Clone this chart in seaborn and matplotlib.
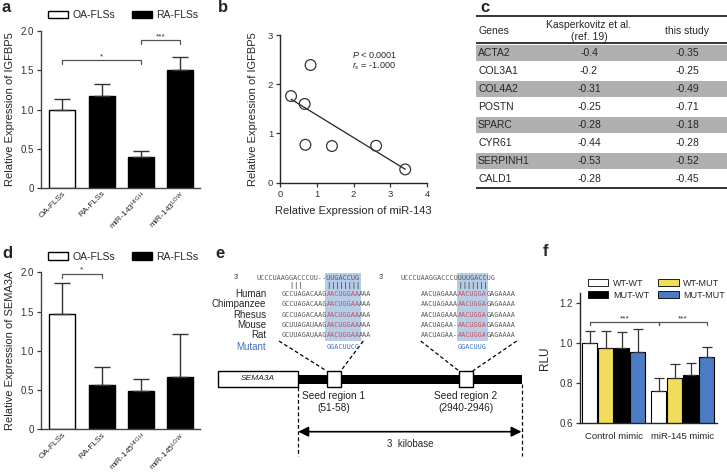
import numpy as np
import pandas as pd
import seaborn as sns
import matplotlib.pyplot as plt
from matplotlib.patches import Patch, Rectangle

sns.set_style('ticks')
plt.rcParams['font.family'] = ['Liberation Sans', 'DejaVu Sans']
plt.rcParams['axes.linewidth'] = 1.0
plt.rcParams['mathtext.fontset'] = 'custom'
plt.rcParams['mathtext.rm'] = 'Liberation Sans'
plt.rcParams['mathtext.it'] = 'Liberation Sans:italic'

W, H = 727, 474

# ---- data ----
# a: IGFBP5 expression
a_labels = ['OA-FLSs', 'RA-FLSs', 'miR-143$^{\\mathregular{HIGH}}$', 'miR-143$^{\\mathregular{LOW}}$']
a_vals = [1.00, 1.17, 0.39, 1.50]
a_sem = [0.13, 0.16, 0.08, 0.17]
a_group = ['OA-FLSs', 'RA-FLSs', 'RA-FLSs', 'RA-FLSs']

# b: correlation miR-143 vs IGFBP5
b_mir143 = [0.30, 0.83, 0.67, 0.69, 1.41, 2.61, 3.40]
b_igfbp5 = [1.76, 2.39, 1.60, 0.77, 0.745, 0.75, 0.27]

# c: table
c_genes = ['ACTA2', 'COL3A1', 'COL4A2', 'POSTN', 'SPARC', 'CYR61', 'SERPINH1', 'CALD1']
c_kasper = ['-0.4', '-0.2', '-0.31', '-0.25', '-0.28', '-0.44', '-0.53', '-0.28']
c_study = ['-0.35', '-0.25', '-0.49', '-0.71', '-0.18', '-0.28', '-0.52', '-0.45']

# d: SEMA3A expression
d_labels = ['OA-FLSs', 'RA-FLSs', 'miR-145$^{\\mathregular{HIGH}}$', 'miR-145$^{\\mathregular{LOW}}$']
d_vals = [1.47, 0.56, 0.49, 0.66]
d_sem = [0.40, 0.23, 0.15, 0.55]

# e: seed sites in SEMA3A 3'UTR
e_species = ['Human', 'Chimpanzee', 'Rhesus', 'Mouse', 'Rat']
e_mirna1 = 'UCCCUAAGGACCCUU--UUGACCUG'
e_pair1 = '        |||      ||||||||'
e_site1 = [('GCCUAGACAAG', 'AACUGGAA', 'AAA')] * 3 + [('GCUUAGAUAAG', 'AACUGGAA', 'AAA')] * 2
e_mut1 = 'GGACUUCG'
e_mirna2 = 'UCCCUAAGGACCCUUUUGACCUG'
e_pair2 = '              |||||||'
e_site2 = [('AACUAGAAA', 'AACUGGA', 'GAGAAAA')] * 3 + [('AACUAGAA-', 'AACUGGA', 'GAGAAAA')] * 2
e_mut2 = 'GGACUUG'
e_seed_labels = ['Seed region 1\n(51-58)', 'Seed region 2\n(2940-2946)']

# f: luciferase
f_groups = ['Control mimic', 'miR-145 mimic']
f_constructs = ['WT-WT', 'WT-MUT', 'MUT-WT', 'MUT-MUT']
f_control = [1.000, 0.978, 0.975, 0.958]
f_mimic = [0.762, 0.825, 0.843, 0.930]
f_control_sem = [0.062, 0.084, 0.082, 0.114]
f_mimic_sem = [0.066, 0.070, 0.057, 0.053]
f_colors = ['white', '#f2dc5b', 'black', '#4a7bc4']

fig = plt.figure(figsize=(W / 100, H / 100), dpi=100)


def px_axes(l, t, r, b):
    return fig.add_axes([l / W, 1 - b / H, (r - l) / W, (b - t) / H])


def bracket(ax, x1, x2, y, h, label, dy):
    ax.plot([x1, x1, x2, x2], [y - h, y, y, y - h], color='#555555', lw=0.9, clip_on=False)
    ax.text((x1 + x2) / 2, y + dy, label, ha='center', va='bottom', fontsize=6, color='#333333')


def bar_panel(ax, labels, vals, sem, groups, ylabel):
    sns.barplot(x=labels, y=vals, hue=groups, palette={'OA-FLSs': 'white', 'RA-FLSs': 'black'},
                dodge=False, width=0.66, edgecolor='black', linewidth=1, legend=False,
                saturation=1, ax=ax)
    ax.errorbar(range(len(vals)), vals, yerr=[np.zeros(len(vals)), sem], fmt='none',
                ecolor='#333333', elinewidth=1, capsize=6, capthick=1)
    ax.set_xlim(-0.54, 3.5)
    ax.set_ylim(0, 2.0)
    ax.set_xticks(range(len(labels)))
    ax.set_xticklabels(labels, rotation=45, ha='right', rotation_mode='anchor', fontsize=6)
    ax.tick_params(axis='x', length=0, pad=1.5)
    ax.set_yticks([0, 0.5, 1.0, 1.5, 2.0])
    ax.set_yticklabels(['0', '0.5', '1.0', '1.5', '2.0'], fontsize=7)
    ax.tick_params(axis='y', length=3, width=0.9, colors='#333333', pad=2)
    ax.set_ylabel(ylabel, fontsize=8, labelpad=4)
    sns.despine(ax=ax)
    for s in ax.spines.values():
        s.set_color('#444444')
    ax.legend(handles=[Patch(facecolor='white', edgecolor='black', label='OA-FLSs'),
                       Patch(facecolor='black', edgecolor='black', label='RA-FLSs')],
              ncol=2, frameon=False, fontsize=7.5, handlelength=1.9, handleheight=0.75,
              columnspacing=1.6, handletextpad=0.4, loc='center left',
              bbox_to_anchor=(0.02, 1.1), borderaxespad=0)


# ---- panel a ----
ax_a = px_axes(41, 31, 200, 188)
bar_panel(ax_a, a_labels, a_vals, a_sem, a_group, 'Relative Expression of IGFBP5')
bracket(ax_a, 0, 2, 1.63, 0.05, '*', 0.0)
bracket(ax_a, 2, 3, 1.885, 0.05, '***', 0.0)

# ---- panel b ----
ax_b = px_axes(280, 35, 427.3, 182.7)
sns.scatterplot(x=b_mir143, y=b_igfbp5, ax=ax_b, s=60, facecolor='none',
                edgecolor='#333333', linewidth=0.9, zorder=3)
slope, icpt = np.polyfit(b_mir143, b_igfbp5, 1)
xl = np.array([min(b_mir143), max(b_mir143)])
ax_b.plot(xl, slope * xl + icpt, color='#222222', lw=0.9)
ax_b.set_xlim(0, 4)
ax_b.set_ylim(0, 3)
ax_b.set_xticks([0, 1, 2, 3, 4])
ax_b.set_yticks([0, 1, 2, 3])
ax_b.tick_params(labelsize=6.8, length=3, width=0.9, colors='#333333', pad=2)
ax_b.set_xlabel('Relative Expression of miR-143', fontsize=8, labelpad=5)
ax_b.set_ylabel('Relative Expression of IGFBP5', fontsize=8, labelpad=7)
sns.despine(ax=ax_b)
ax_b.text(1.95, 2.6, '$P$ < 0.0001', fontsize=6.5, va='center')
ax_b.text(1.95, 2.37, '$r_s$ = -1.000', fontsize=6.5, va='center')

# ---- panel c ----
ax_c = px_axes(476, 8, 727, 195)
ax_c.set_xlim(476, 727)
ax_c.set_ylim(195, 8)
ax_c.axis('off')
row_h = 18
top_rows = 44
for i, (g, k, s) in enumerate(zip(c_genes, c_kasper, c_study)):
    yc = top_rows + row_h * (i + 0.5)
    if i % 2 == 0:
        ax_c.add_patch(Rectangle((476, top_rows + row_h * i + 1), 251, row_h - 2,
                                 facecolor='#b0b0b0', edgecolor='none'))
    ax_c.text(478, yc, g, fontsize=7.5, va='center', ha='left')
    ax_c.text(589, yc, k, fontsize=7.5, va='center', ha='center')
    ax_c.text(687, yc, s, fontsize=7.5, va='center', ha='center')
ax_c.text(478, 31.5, 'Genes', fontsize=7.5, va='center')
ax_c.text(589, 25, 'Kasperkovitz et al.', fontsize=7.5, va='center', ha='center')
ax_c.text(589, 37, '(ref. 19)', fontsize=7.5, va='center', ha='center')
ax_c.text(687, 31.5, 'this study', fontsize=7.5, va='center', ha='center')
for yy in [16, 43.3, top_rows + row_h * len(c_genes)]:
    ax_c.plot([476, 727], [yy, yy], color='#333333', lw=1.4)

# ---- panel d ----
ax_d = px_axes(41, 272.3, 200, 429.3)
bar_panel(ax_d, d_labels, d_vals, d_sem, a_group, 'Relative Expression of SEMA3A')
bracket(ax_d, 0, 1, 1.98, 0.05, '*', 0.0)

# ---- panel e ----
ax_e = px_axes(212, 262, 532, 462)
ax_e.set_xlim(212, 532)
ax_e.set_ylim(462, 262)
ax_e.axis('off')
cw = 4.1
mono = dict(family='DejaVu Sans Mono', fontsize=4.9, va='center', ha='left')
seq_grey = '#555555'
seed_red = '#c8505a'
mut_blue = '#3f6fc4'
y_mir, y_pair = 277.7, 285.7
y_sp = [294 + 10.3 * i for i in range(len(e_species))]
y_mut = 346.8

for sp, yy in zip(e_species, y_sp):
    ax_e.text(266, yy, sp, fontsize=7, ha='right', va='center')
ax_e.text(266, y_mut, 'Mutant', fontsize=7, ha='right', va='center', color=mut_blue)

regions = [(256.7, e_mirna1, e_pair1, e_site1, e_mut1, 6, 234),
           (400.7, e_mirna2, e_pair2, e_site2, e_mut2, 5, 379)]
for x0, mir, pair, sites, mut, indent, x3 in regions:
    seed_i = indent + len(sites[0][0])
    seed_n = len(sites[0][1])
    ax_e.add_patch(Rectangle((x0 + seed_i * cw - 1.5, 272.5), seed_n * cw + 3, 68.5,
                             facecolor='#a9c3e3', edgecolor='none', alpha=0.85, zorder=0))
    ax_e.text(x3, y_mir, "3'", fontsize=5, va='center', ha='left', color='#333333')
    ax_e.text(x0, y_mir, mir, color=seq_grey, **mono)
    ax_e.text(x0, y_pair, pair, color='#333333', **mono)
    for (pre, seed, post), yy in zip(sites, y_sp):
        ax_e.text(x0 + indent * cw, yy, pre, color=seq_grey, **mono)
        ax_e.text(x0 + seed_i * cw, yy, seed, color=seed_red, **mono)
        ax_e.text(x0 + (seed_i + seed_n) * cw, yy, post, color=seq_grey, **mono)
    ax_e.text(x0 + seed_i * cw, y_mut, mut, color=mut_blue, **mono)

# gene body
ax_e.add_patch(Rectangle((218, 371), 80.3, 16, facecolor='white', edgecolor='black', lw=1))
ax_e.text(258, 379, 'SEMA3A', fontsize=6, style='italic', ha='center', va='center')
ax_e.add_patch(Rectangle((298.3, 374.5), 223.4, 9.3, facecolor='black', edgecolor='none'))
seed_box_x = [326.7, 459]
for bx, lab in zip(seed_box_x, e_seed_labels):
    ax_e.add_patch(Rectangle((bx, 371), 14, 16, facecolor='white', edgecolor='black', lw=1, zorder=3))
    ax_e.text(bx + 7, 402, lab, fontsize=7.3, ha='center', va='center', linespacing=1.3, color='#222222')
dash = dict(color='black', lw=0.9, ls=(0, (3, 2)))
ax_e.plot([279, 326.7], [341, 371], **dash)
ax_e.plot([363.3, 340.7], [341, 371], **dash)
ax_e.plot([420.7, 459], [341, 371], **dash)
ax_e.plot([516.7, 472.7], [341, 371], **dash)
ax_e.plot([298.3, 298.3], [387, 456], **dash)
ax_e.plot([521.5, 521.5], [384, 456], **dash)
ax_e.annotate('', xy=(298.3, 431.7), xytext=(521.5, 431.7),
              arrowprops=dict(arrowstyle='<|-|>', color='black', lw=1.2, mutation_scale=15,
                              shrinkA=0, shrinkB=0))
ax_e.text(410, 443.5, '3  kilobase', fontsize=7, ha='center', va='center')

# ---- panel f ----
ax_f = px_axes(580, 293.3, 716.7, 423.3)
df_f = pd.DataFrame({
    'group': np.repeat(f_groups, len(f_constructs)),
    'construct': f_constructs * len(f_groups),
    'value': f_control + f_mimic,
})
sns.barplot(data=df_f, x='group', y='value', hue='construct', hue_order=f_constructs,
            palette=f_colors, width=0.93, gap=0.06, edgecolor='black', linewidth=0.8,
            errorbar=None, legend=False, saturation=1, ax=ax_f)
bars = sorted(ax_f.patches, key=lambda p: p.get_x())
bx = [p.get_x() + p.get_width() / 2 for p in bars]
bh = [p.get_height() for p in bars]
f_sem = f_control_sem + f_mimic_sem
ax_f.errorbar(bx, bh, yerr=[np.zeros(len(bh)), f_sem], fmt='none', ecolor='#333333',
              elinewidth=0.9, capsize=3.5, capthick=0.9)
ax_f.set_xlim(-0.49, 1.49)
ax_f.set_ylim(0.6, 1.25)
ax_f.set_yticks([0.6, 0.8, 1.0, 1.2])
ax_f.set_yticklabels(['0.6', '0.8', '1.0', '1.2'])
ax_f.tick_params(axis='y', labelsize=7, length=3, width=0.9, colors='#333333', pad=2)
ax_f.tick_params(axis='x', labelsize=6.8, length=0, pad=6)
ax_f.set_xlabel('')
ax_f.set_ylabel('RLU', fontsize=8.5, labelpad=6)
sns.despine(ax=ax_f)
bracket(ax_f, bx[0], bx[4], 1.105, 0.015, '***', 0.0)
bracket(ax_f, bx[4], bx[7], 1.105, 0.015, '***', 0.0)
# row-wise order for a 2-column legend
leg_order = [0, 2, 1, 3]
ax_f.legend(handles=[Patch(facecolor=f_colors[i], edgecolor='black', lw=0.6, label=f_constructs[i])
                     for i in leg_order],
            ncol=2, frameon=False, fontsize=6.5, handlelength=2.3, handleheight=0.8,
            columnspacing=1.0, handletextpad=0.5, labelspacing=0.35,
            loc='center left', bbox_to_anchor=(0.03, 1.03), borderaxespad=0)

# panel letters
for lab, x, y in [('a', 2, 12.5), ('b', 218, 12.5), ('c', 480, 12.5),
                  ('d', 2, 258), ('e', 215, 258), ('f', 543, 256)]:
    fig.text(x / W, 1 - y / H, lab, fontsize=12, fontweight='bold', va='baseline', ha='left')

fig.savefig('out.png', dpi=100)
